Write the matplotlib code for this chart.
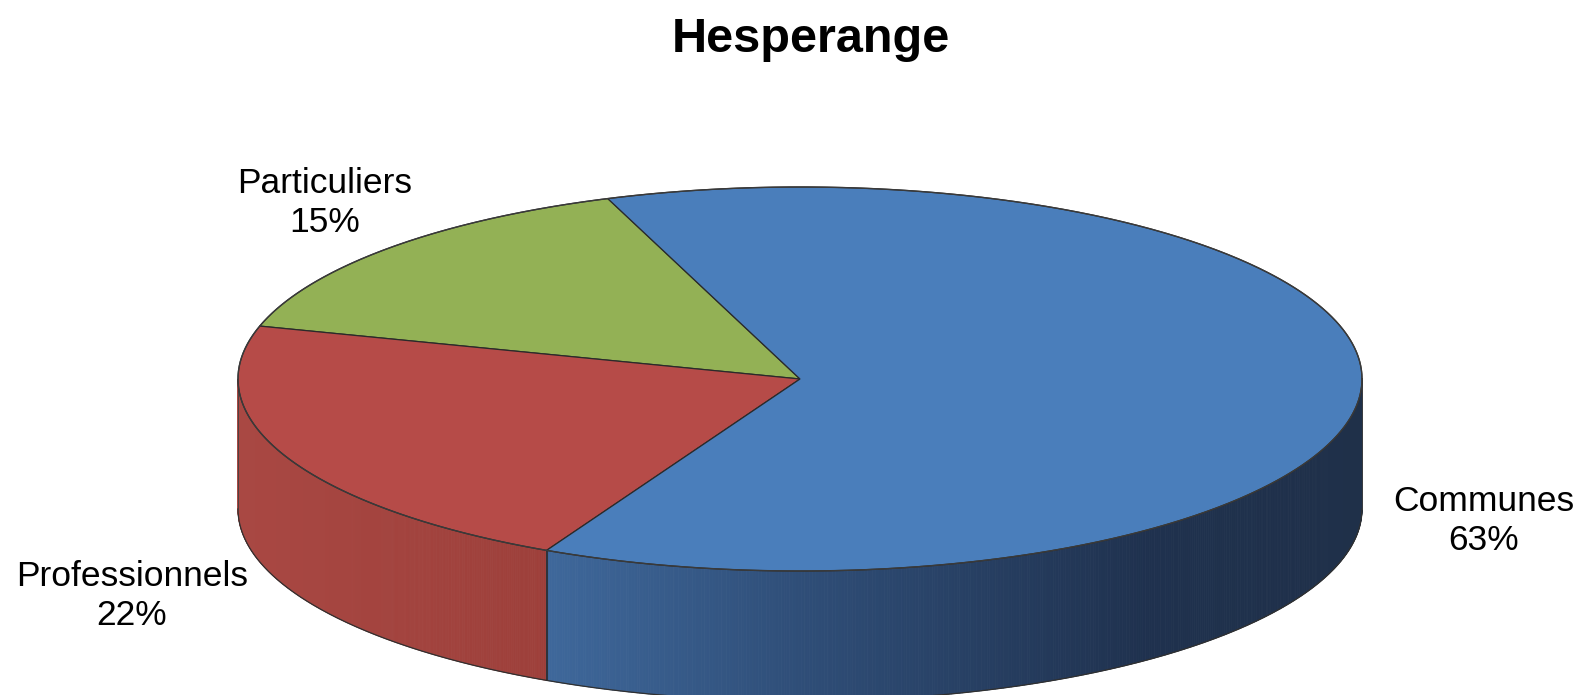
import matplotlib
matplotlib.use("Agg")
import matplotlib.pyplot as plt
from matplotlib.patches import Polygon
from matplotlib.collections import PolyCollection
from matplotlib.colors import to_rgb
import numpy as np

# data
title = "Hesperange"
labels = ["Particuliers", "Professionnels", "Communes"]
shares = [15, 22, 63]
top_colors = ["#93B155", "#B64B48", "#4A7EBB"]
side_stops = [  # (x position, colour) along the front wall
    [(238, "#A94843"), (554, "#9D3F3A")],
    [(238, "#A94843"), (554, "#9D3F3A")],
    [(554, "#3E679A"), (800, "#2F4E78"), (1150, "#1F314E"), (1365, "#1F3049")],
]
label_pos = [(325, 203), (132, 596), (1484, 521)]

# geometry in pixel coords
cx, cy, rx, ry, depth = 800, 379, 562, 192, 130
start = 110.0


def ell(t):
    r = np.radians(t)
    return cx + rx * np.cos(r), cy - ry * np.sin(r)


fig = plt.figure(figsize=(15.8, 6.95), dpi=100)
ax = fig.add_axes([0, 0, 1, 1])
ax.set_xlim(0, 1580)
ax.set_ylim(695, 0)
ax.axis("off")

bounds = start + np.concatenate([[0], np.cumsum(shares)]) * 3.6

# front walls
for i in range(len(shares)):
    a0, a1 = max(bounds[i], 180), min(bounds[i + 1], 360)
    if a1 <= a0:
        continue
    t = np.linspace(a0, a1, 400)
    x, y = ell(t)
    xs = [p[0] for p in side_stops[i]]
    cs = np.array([to_rgb(p[1]) for p in side_stops[i]])
    polys, cols = [], []
    for k in range(len(t) - 1):
        polys.append([(x[k], y[k]), (x[k + 1], y[k + 1]),
                      (x[k + 1], y[k + 1] + depth), (x[k], y[k] + depth)])
        xm = (x[k] + x[k + 1]) / 2
        cols.append([np.interp(xm, xs, cs[:, j]) for j in range(3)])
    ax.add_collection(PolyCollection(polys, facecolors=cols, edgecolors=cols,
                                     linewidths=0.6, zorder=1))
    ax.plot(x, y + depth, color="#303030", lw=0.9, zorder=2)
    # vertical seam between walls
    if bounds[i] > 180 and bounds[i] < 360:
        px, py = ell(bounds[i])
        ax.plot([px, px], [py, py + depth], color="#2a2a2a", lw=1.2, zorder=2)

# end lines of the wall at the sides
for a in (180, 360):
    px, py = ell(a)
    ax.plot([px, px], [py, py + depth], color="#404040", lw=0.6, zorder=2)

# top face
for i in range(len(shares)):
    t = np.linspace(bounds[i], bounds[i + 1], 300)
    x, y = ell(t)
    pts = np.column_stack([np.r_[cx, x], np.r_[cy, y]])
    ax.add_patch(Polygon(pts, closed=True, facecolor=top_colors[i],
                         edgecolor="#2a2a2a", lw=0.9, zorder=3))

t = np.linspace(0, 360, 800)
x, y = ell(t)
ax.plot(x, y, color="#3a3a3a", lw=1.0, zorder=4)

for i in range(len(shares)):
    ax.text(label_pos[i][0], label_pos[i][1], f"{labels[i]}\n{shares[i]}%",
            ha="center", va="center", fontsize=25.5, family="Liberation Sans",
            linespacing=1.2, zorder=5)

ax.text(811, 39, title, ha="center", va="center", fontsize=35,
        fontweight="bold", family="Liberation Sans")

fig.savefig("out.png", dpi=100)
